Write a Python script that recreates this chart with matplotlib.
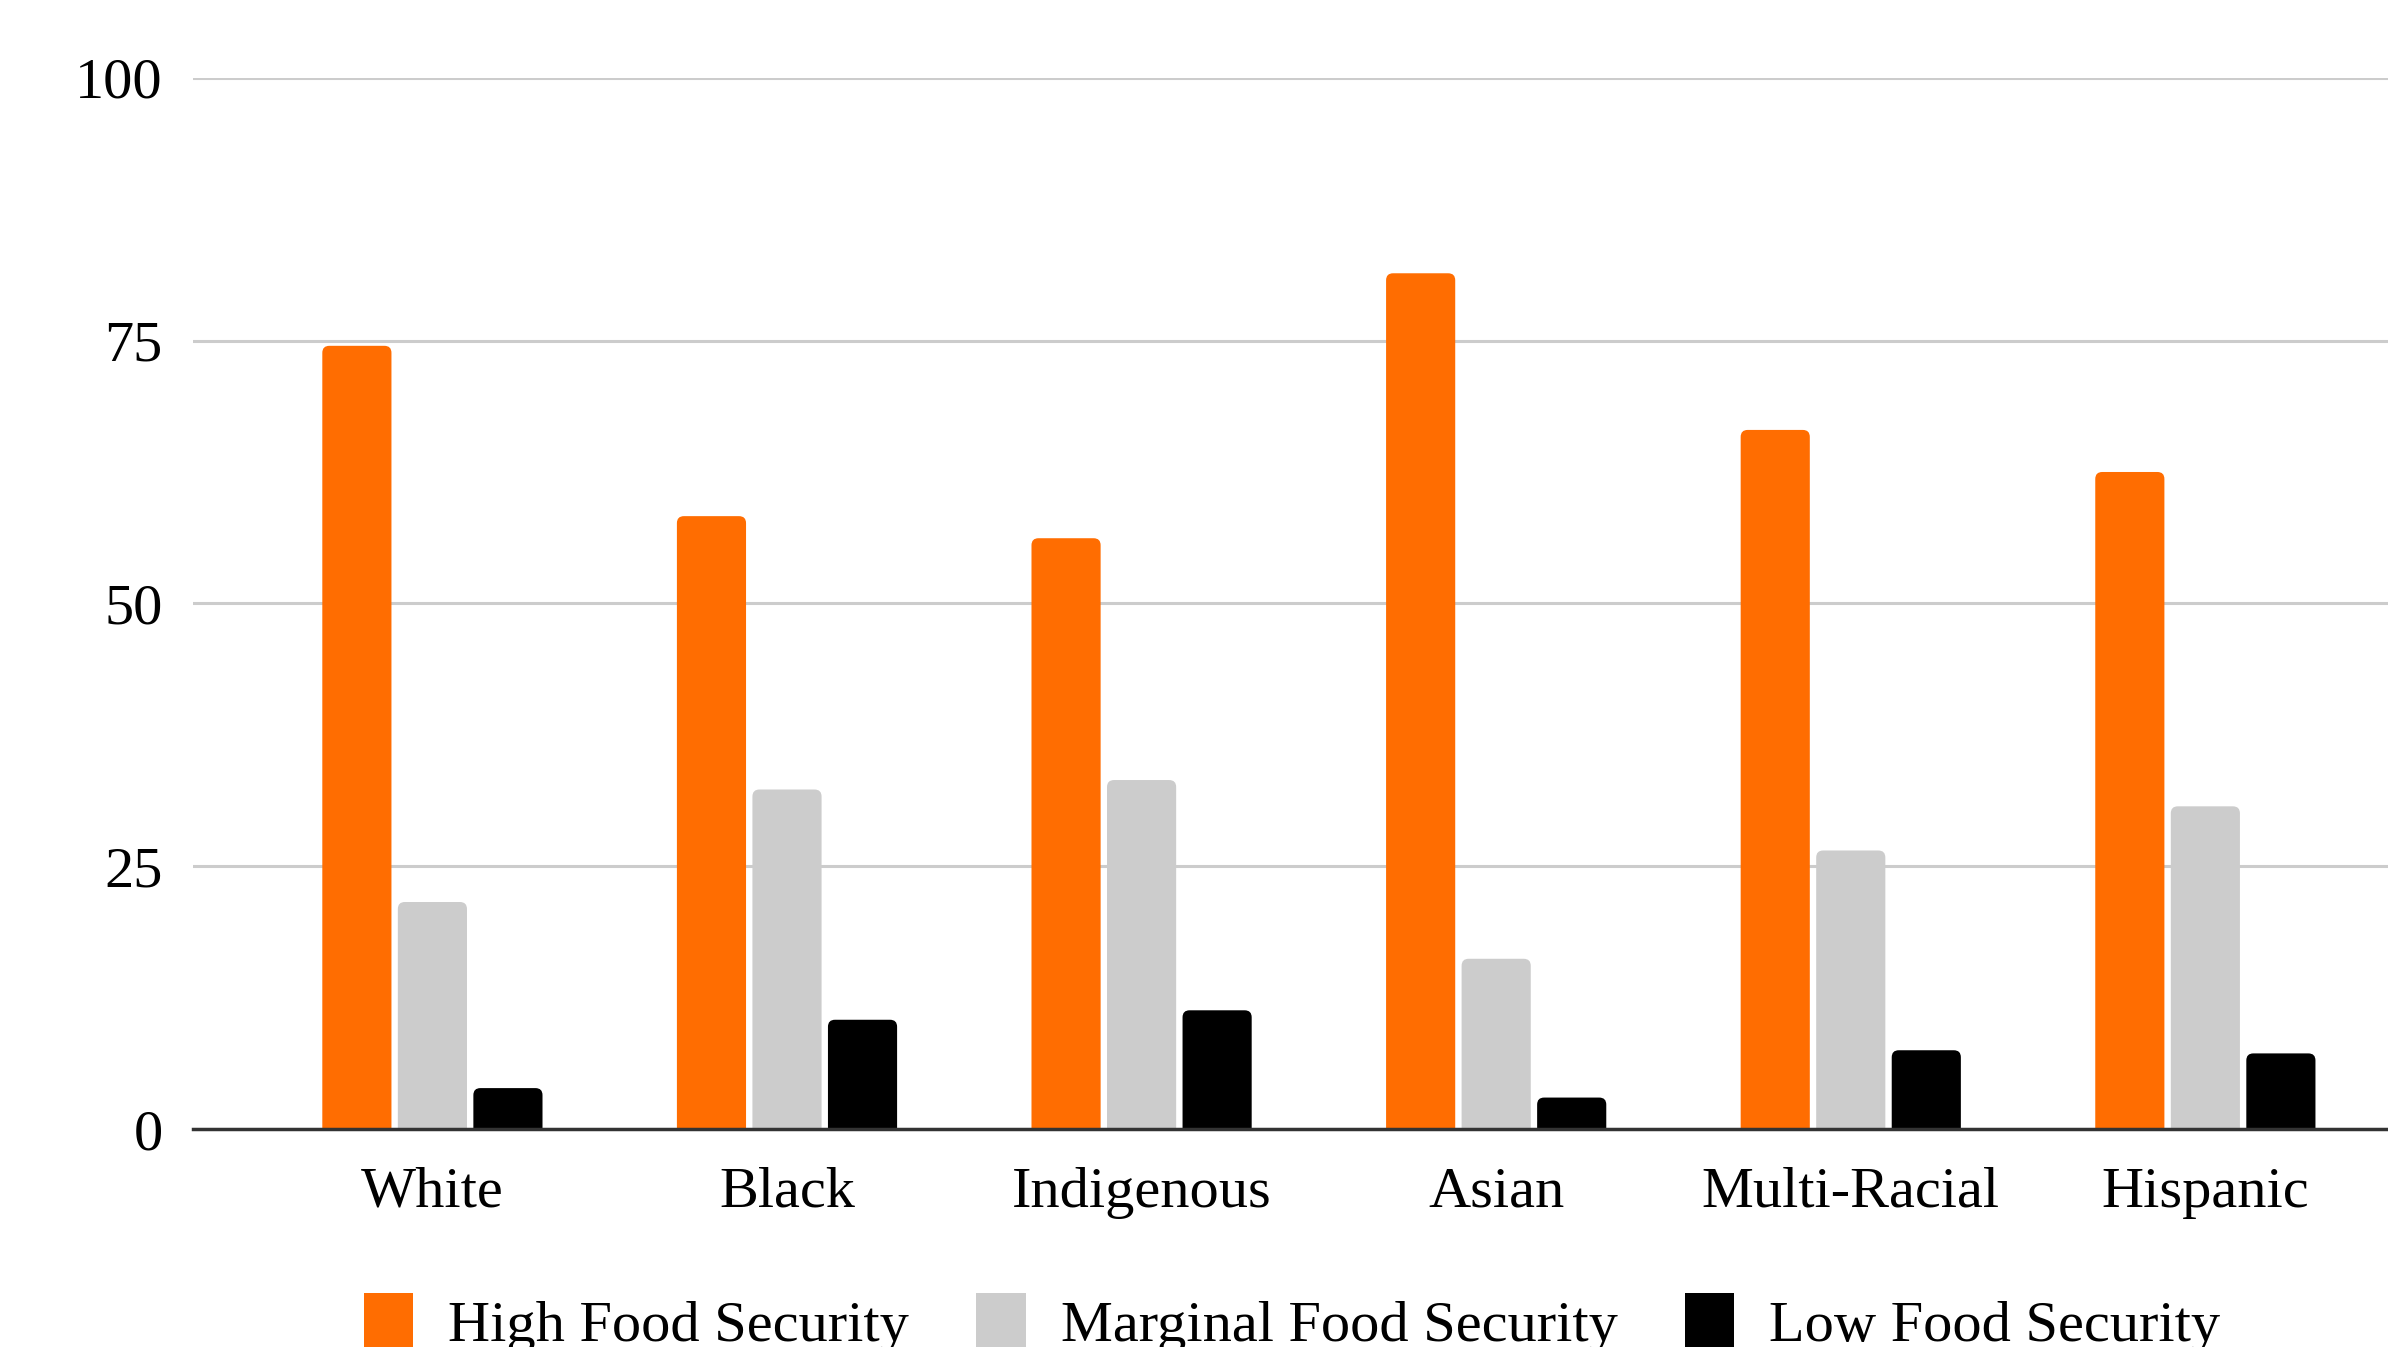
import numpy as np
import matplotlib
matplotlib.use('Agg')
import matplotlib.pyplot as plt
from matplotlib.patches import FancyBboxPatch, Patch

plt.rcParams['font.family'] = ['Liberation Serif', 'DejaVu Serif']

# Données
groups = ["White", "Black", "Indigenous", "Asian", "Multi-Racial", "Hispanic"]
high_security = [74.5, 58.3, 56.2, 81.4, 66.5, 62.5]
marginal_security = [21.6, 32.3, 33.2, 16.2, 26.5, 30.7]
low_security = [3.9, 10.4, 11.3, 3.0, 7.5, 7.2]
series_names = ["High Food Security", "Marginal Food Security", "Low Food Security"]
series_colors = ["#ff6d01", "#cccccc", "#000000"]
y_ticks = [0, 25, 50, 75, 100]

fig = plt.figure(figsize=(23.88, 13.47), dpi=100)
# l'image de référence est coupée à droite : l'axe dépasse la figure
ax = fig.add_axes([127 / 1568, 1 - 741 / 884, 1478 / 1568, 690 / 884])

x = np.arange(len(groups))
bar_w = 0.195
step = 0.213
all_series = [high_security, marginal_security, low_security]

# coins arrondis : rayon en unités de données, corrigé par l'aspect
px_x = 1478 / 1568 * 2388 / 6.348   # pixels par catégorie
px_y = 690 / 884 * 1347 / 100       # pixels par unité y
r_px = 7
r_x = r_px / px_x
aspect = px_x / px_y

for k, (vals, col) in enumerate(zip(all_series, series_colors)):
    for xi, v in zip(x + (k - 1) * step, vals):
        patch = FancyBboxPatch((xi - bar_w / 2, -r_px / px_y), bar_w, v + r_px / px_y,
                               boxstyle=f"round,pad=0,rounding_size={r_x}",
                               mutation_aspect=aspect, facecolor=col,
                               edgecolor='none', zorder=3)
        ax.add_patch(patch)

ax.set_xlim(-0.674, 5.674)
ax.set_ylim(0, 100)
ax.set_xticks(x)
ax.set_xticklabels(groups, fontsize=42)
ax.set_yticks(y_ticks)
ax.set_yticklabels([str(t) for t in y_ticks], fontsize=42)
ax.tick_params(axis='both', length=0)
ax.tick_params(axis='y', pad=22)
ax.tick_params(axis='x', pad=27)

ax.grid(axis='y', color='#cccccc', linewidth=2.2, zorder=0)
ax.grid(axis='x', visible=False)
for s in ['top', 'right', 'left']:
    ax.spines[s].set_visible(False)
ax.spines['bottom'].set_color('#333333')
ax.spines['bottom'].set_linewidth(2.5)
ax.spines['bottom'].set_zorder(4)
ax.set_facecolor('white')

handles = [Patch(facecolor=c, edgecolor='none') for c in series_colors]
fig.legend(handles, series_names, loc='center', bbox_to_anchor=(0.541, 0.018),
           ncol=3, frameon=False, fontsize=42, handlelength=0.85,
           handleheight=1.1, handletextpad=0.6, columnspacing=1.15)

fig.savefig('out.png', dpi=100, facecolor='white')
